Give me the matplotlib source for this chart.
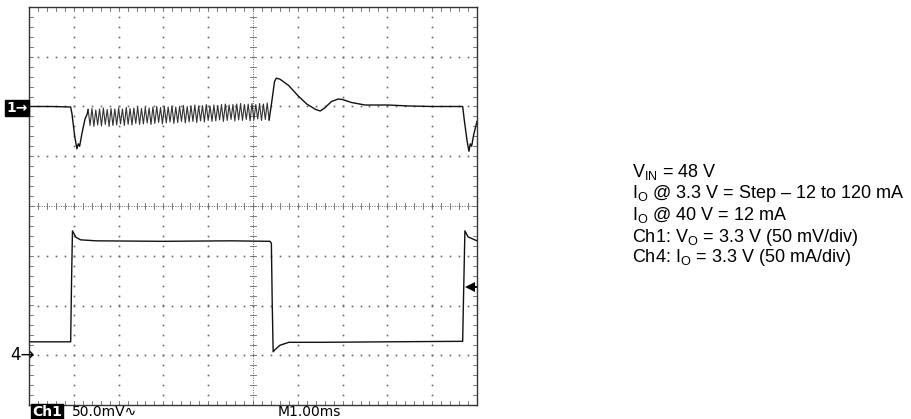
import matplotlib.pyplot as plt
import numpy as np

plt.rcParams['font.family'] = ['Liberation Sans', 'DejaVu Sans']
plt.rcParams['mathtext.fontset'] = 'custom'
plt.rcParams['mathtext.rm'] = 'Liberation Sans'
plt.rcParams['mathtext.it'] = 'Liberation Sans'

# Data (screen divisions: x = time div at 1 ms/div, y = vertical div)
ch1_pre_t = [0.0, 0.5, 0.93, 0.96, 1.02, 1.07, 1.10, 1.13, 1.18, 1.25, 1.30]
ch1_pre_v = [2.0, 2.0, 1.99, 1.85, 1.40, 1.15, 1.25, 1.20, 1.45, 1.75, 1.85]
ripple_start, ripple_end = 1.32, 5.36
ripple_peaks = [1.94, 1.96, 1.93, 1.95, 1.97, 1.94, 1.96, 1.95, 1.97, 1.95, 1.98,
                1.96, 1.97, 1.99, 1.96, 1.98, 1.97, 1.99, 2.00, 1.98, 2.00, 1.99,
                2.01, 1.99, 2.00, 2.02, 2.00, 2.01, 2.03, 2.01, 2.02, 2.04, 2.01,
                2.03, 2.02, 2.04, 2.05, 2.03, 2.04, 2.05, 2.06, 2.04, 2.05, 2.06,
                2.04, 2.06, 2.05, 2.07]
ripple_troughs = [1.62, 1.60, 1.63, 1.61, 1.64, 1.60, 1.62, 1.63, 1.65, 1.62, 1.64,
                  1.63, 1.66, 1.64, 1.65, 1.67, 1.64, 1.66, 1.68, 1.65, 1.67, 1.69,
                  1.66, 1.68, 1.70, 1.67, 1.69, 1.70, 1.68, 1.71, 1.69, 1.72, 1.70,
                  1.71, 1.73, 1.70, 1.72, 1.74, 1.71, 1.73, 1.72, 1.74, 1.71, 1.73,
                  1.75, 1.72, 1.74, 1.73]
ch1_post_t = [5.38, 5.42, 5.48, 5.52, 5.60, 5.80, 6.00, 6.20, 6.40, 6.50, 6.60, 6.75,
              6.90, 7.00, 7.20, 7.50, 8.00, 8.50, 9.00, 9.50, 9.68, 9.72, 9.78, 9.82,
              9.85, 9.88, 9.93, 10.0]
ch1_post_v = [1.85, 2.10, 2.50, 2.57, 2.55, 2.42, 2.22, 2.05, 1.94, 1.91, 1.97, 2.10,
              2.15, 2.14, 2.08, 2.03, 2.03, 2.01, 2.00, 2.00, 2.00, 1.70, 1.30, 1.10,
              1.25, 1.20, 1.45, 1.70]

ch4_t = [0.0, 0.93, 0.95, 0.97, 1.00, 1.05, 1.15, 1.50, 3.00, 4.50, 5.38, 5.41,
         5.43, 5.45, 5.50, 5.60, 5.80, 6.50, 8.00, 9.68, 9.70, 9.73, 9.80, 10.0]
ch4_v = [-2.73, -2.73, -1.50, -0.50, -0.55, -0.63, -0.68, -0.70, -0.71, -0.70, -0.71,
         -0.75, -2.00, -2.93, -2.88, -2.80, -2.74, -2.74, -2.73, -2.72, -1.80, -0.50,
         -0.62, -0.70]

ch1_ref, ch4_ref, trig_level = 2.0, -3.0, -1.63

info_lines = [
    r'V$_{\mathrm{IN}}$ = 48 V',
    r'I$_{\mathrm{O}}$ @ 3.3 V = Step – 12 to 120 mA',
    r'I$_{\mathrm{O}}$ @ 40 V = 12 mA',
    r'Ch1: V$_{\mathrm{O}}$ = 3.3 V (50 mV/div)',
    r'Ch4: I$_{\mathrm{O}}$ = 3.3 V (50 mA/div)',
]

fig = plt.figure(figsize=(9.11, 4.19), dpi=100)
ax = fig.add_axes([29 / 911, 14 / 419, 448 / 911, 398 / 419])
ax.set_xlim(0, 10)
ax.set_ylim(-4, 4)
ax.set_xticks([])
ax.set_yticks([])
for s in ax.spines.values():
    s.set_color('#333333')
    s.set_linewidth(1.0)

grid_c = '#666666'
minor = np.arange(0, 10.01, 0.2)
minor_y = np.arange(-4, 4.01, 0.2)
# dotted major grid
for gx in range(1, 10):
    if gx == 5:
        continue
    ax.plot(np.full_like(minor_y, gx), minor_y, ls='none', marker='s', ms=1.2,
            color=grid_c, mew=0)
for gy in range(-3, 4):
    if gy == 0:
        continue
    ax.plot(minor, np.full_like(minor, gy), ls='none', marker='s', ms=1.2,
            color=grid_c, mew=0)
# center lines
ax.plot([5, 5], [-4, 4], ls=(0, (1, 1.5)), lw=0.7, color=grid_c)
ax.plot([0, 10], [0, 0], ls=(0, (1, 1.5)), lw=0.7, color=grid_c)
for mx in minor:
    ax.plot([mx, mx], [-0.06, 0.06], lw=0.6, color=grid_c)
    ax.plot([mx, mx], [-4, -3.92], lw=0.6, color=grid_c)
    ax.plot([mx, mx], [3.92, 4], lw=0.6, color=grid_c)
for my in minor_y:
    ax.plot([4.94, 5.06], [my, my], lw=0.6, color=grid_c)
    ax.plot([0, 0.08], [my, my], lw=0.6, color=grid_c)
    ax.plot([9.92, 10], [my, my], lw=0.6, color=grid_c)

# Ch1 trace
rip_t = np.linspace(ripple_start, ripple_end, 2 * len(ripple_peaks))
rip_v = np.ravel(np.column_stack([ripple_peaks, ripple_troughs]))
ax.plot(ch1_pre_t + [rip_t[0]], ch1_pre_v + [rip_v[0]], color='#111111', lw=1.0)
ax.plot(rip_t, rip_v, color='#333333', lw=0.8)
ax.plot([rip_t[-1]] + ch1_post_t, [rip_v[-1]] + ch1_post_v, color='#111111', lw=1.0)

# Ch4 trace
ax.plot(ch4_t, ch4_v, color='#111111', lw=1.0)

# trigger level arrow
ax.plot([9.84, 10], [trig_level, trig_level], color='black', lw=1.4, clip_on=False)
ax.plot([9.84], [trig_level], marker='<', ms=7, color='black', mew=0)

# channel markers
fig.text(28 / 911, 1 - 108 / 419, '1→', color='white', fontsize=10, fontweight='bold',
         va='center', ha='right', family='DejaVu Sans',
         bbox=dict(boxstyle='square,pad=0.1', fc='black', ec='black'))
fig.text(10 / 911, 1 - 355 / 419, '4→', color='black', fontsize=12,
         va='center', ha='left', family='DejaVu Sans')

# bottom readout
fig.text(32 / 911, 1 - 412 / 419, 'Ch1', color='white', fontsize=10, fontweight='bold',
         va='center', ha='left', family='DejaVu Sans',
         bbox=dict(boxstyle='square,pad=0.1', fc='black', ec='black'))
fig.text(72 / 911, 1 - 412 / 419, '50.0mV∿', color='black', fontsize=10,
         va='center', ha='left', family='DejaVu Sans')
fig.text(278 / 911, 1 - 412 / 419, 'M1.00ms', color='black', fontsize=10,
         va='center', ha='left', family='DejaVu Sans')

# info block
baselines = [177, 198, 220, 242, 262]
for line, yb in zip(info_lines, baselines):
    fig.text(632 / 911, 1 - yb / 419, line, fontsize=13, va='baseline', ha='left')

fig.savefig('out.png', dpi=100)
